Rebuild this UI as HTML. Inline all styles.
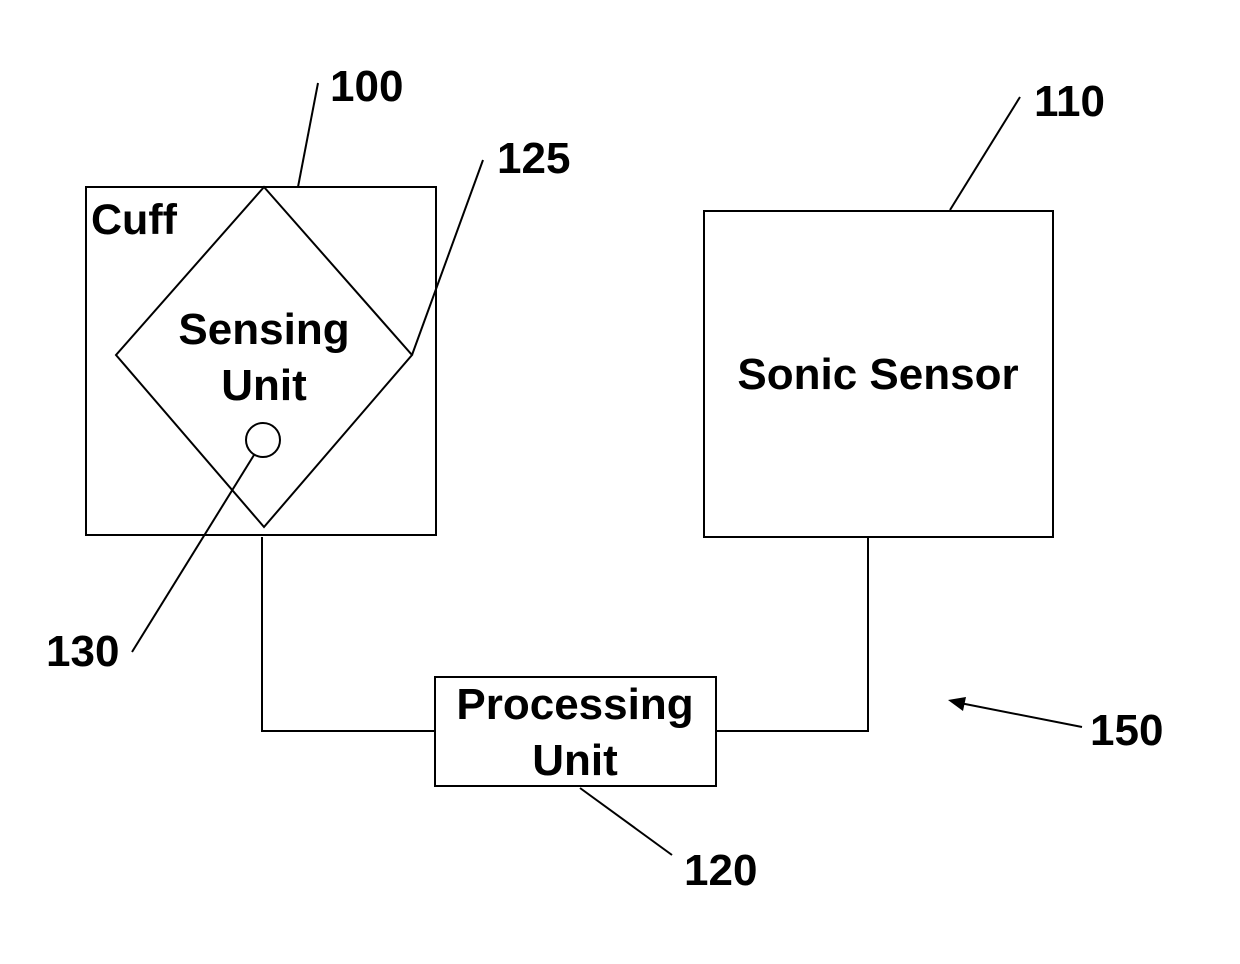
<!DOCTYPE html>
<html><head><style>body{margin:0;background:#fff}svg{display:block}</style></head><body>
<svg width="1240" height="964" xmlns="http://www.w3.org/2000/svg" font-family="Liberation Sans, sans-serif" font-weight="bold" fill="#000">
<g fill="none" stroke="#000" stroke-width="2">
<rect x="86" y="187" width="350" height="348"/>
<polygon points="264,187 412,355 264,527 116,355"/>
<circle cx="263" cy="440" r="17"/>
<line x1="254" y1="455" x2="132" y2="652"/>
<line x1="298" y1="187" x2="318" y2="83"/>
<line x1="412" y1="355" x2="483" y2="160"/>
<rect x="704" y="211" width="349" height="326"/>
<line x1="950" y1="210" x2="1020" y2="97"/>
<rect x="435" y="677" width="281" height="109"/>
<polyline points="262,537 262,731 435,731"/>
<polyline points="868,537 868,731 716,731"/>
<line x1="580" y1="788" x2="672" y2="855"/>
<line x1="1082" y1="727" x2="960" y2="703"/>
</g>
<polygon points="948,700 966,697 963,711" fill="#000"/>
<g font-size="44">
<text x="91" y="234" font-size="43">Cuff</text>
<text x="264" y="344" text-anchor="middle">Sensing</text>
<text x="264" y="400" text-anchor="middle">Unit</text>
<text x="878" y="389" text-anchor="middle">Sonic Sensor</text>
<text x="575" y="719" text-anchor="middle">Processing</text>
<text x="575" y="775" text-anchor="middle">Unit</text>
<text x="330" y="101">100</text>
<text x="497" y="173">125</text>
<text x="1034" y="116">110</text>
<text x="46" y="666">130</text>
<text x="684" y="885">120</text>
<text x="1090" y="745">150</text>
</g>
</svg>
</body></html>
